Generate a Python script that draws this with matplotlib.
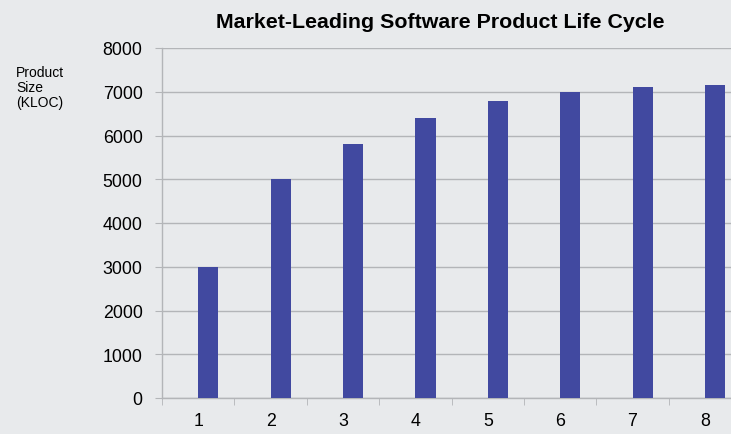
import numpy as np
import matplotlib.pyplot as plt

plt.rcParams['font.family'] = ['Liberation Sans', 'DejaVu Sans']

years = [1, 2, 3, 4, 5, 6, 7, 8]
size_kloc = [3000, 5000, 5800, 6400, 6800, 7000, 7100, 7150]

bg = '#e8eaec'
grid_col = '#b3b5b8'
bar_col = '#4149a0'

fig = plt.figure(figsize=(7.31, 4.35), dpi=100)
fig.patch.set_facecolor(bg)
ax = fig.add_axes([162 / 731, 1 - 399 / 435, 1 - 162 / 731, (399 - 49) / 435])
ax.set_facecolor(bg)

x = np.array(years)
ax.bar(x + 0.14, size_kloc, width=0.28, color=bar_col, zorder=3)

ax.set_xlim(0.5, 8.36)
ax.set_ylim(0, 8000)
ax.set_yticks(range(0, 8001, 1000))
ax.set_xticks(x)
ax.set_xticks(np.arange(0.5, 8.5, 1), minor=True)
ax.tick_params(axis='x', which='major', length=0, pad=10, labelsize=12.8)
ax.tick_params(axis='x', which='minor', length=5, color=grid_col, direction='out')
ax.tick_params(axis='y', length=5, color=grid_col, pad=9, labelsize=12.8)
ax.yaxis.grid(True, color=grid_col, linewidth=1, zorder=0)

for side in ['top', 'right']:
    ax.spines[side].set_visible(False)
for side in ['left', 'bottom']:
    ax.spines[side].set_color(grid_col)
    ax.spines[side].set_linewidth(1)

fig.text(440 / 731, 1 - 22 / 435, 'Market-Leading Software Product Life Cycle',
         ha='center', va='center', fontsize=15.4, fontweight='bold')
fig.text(16 / 731, 1 - 88 / 435, 'Product\nSize\n(KLOC)', ha='left', va='center',
         fontsize=10, linespacing=1.05)

fig.savefig('out.png', dpi=100, facecolor=bg)
